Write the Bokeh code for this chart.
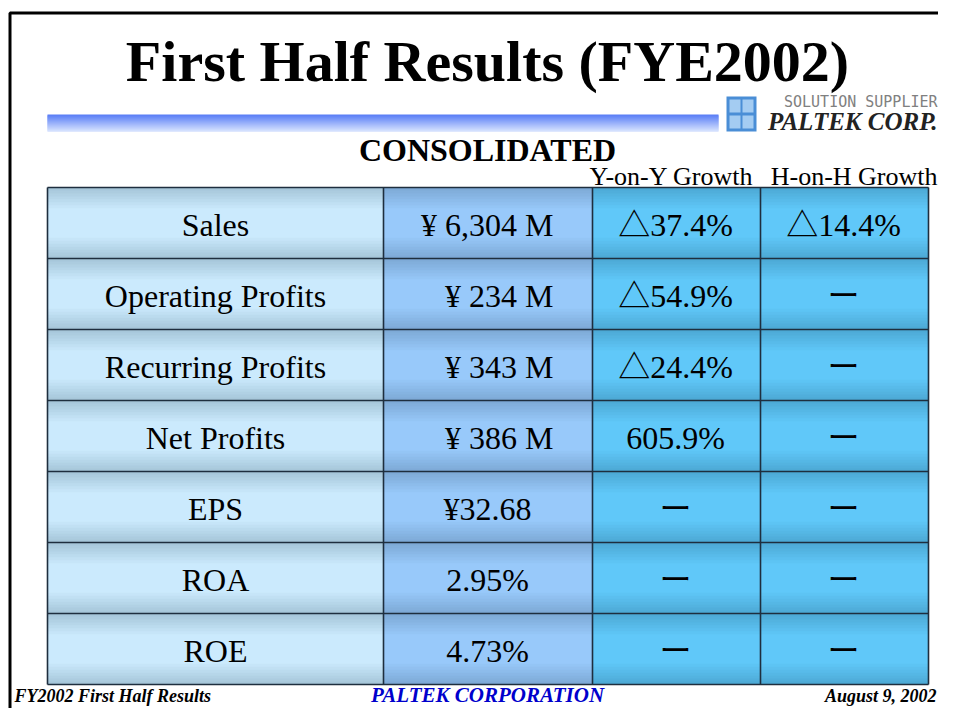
from bokeh.plotting import figure
from bokeh.models import Range1d
from bokeh.core.properties import value
from bokeh.embed import file_html
from bokeh.resources import INLINE

# ---- data ----
title = "First Half Results (FYE2002)"
subtitle = "CONSOLIDATED"
col_headers = ["Y-on-Y Growth", "H-on-H Growth"]
labels = ["Sales", "Operating Profits", "Recurring Profits", "Net Profits", "EPS", "ROA", "ROE"]
amounts = ["¥ 6,304 M", "¥ 234 M", "¥ 343 M", "¥ 386 M", "¥32.68", "2.95%", "4.73%"]
yoy = ["△37.4%", "△54.9%", "△24.4%", "605.9%", "ー", "ー", "ー"]
hoh = ["△14.4%", "ー", "ー", "ー", "ー", "ー", "ー"]
footer_left = "FY2002 First Half Results"
footer_mid = "PALTEK CORPORATION"
footer_right = "August 9, 2002"

SERIF = value("Liberation Serif")
SERIF_CJK = value("Liberation Serif, Noto Sans CJK JP")

W, H = 938, 708
col_x = [47, 383, 592, 760, 928]
row_top = 187
row_h = 71
n = len(labels)

p = figure(width=W, height=H, x_range=Range1d(0, W), y_range=Range1d(H, 0),
           output_backend="svg", toolbar_location=None, min_border=0)
p.axis.visible = False
p.grid.visible = False
p.outline_line_color = None
p.background_fill_color = "white"
p.border_fill_color = "white"


def hexmix(a, b, t):
    a = [int(a[i:i + 2], 16) for i in (1, 3, 5)]
    b = [int(b[i:i + 2], 16) for i in (1, 3, 5)]
    return "#" + "".join("%02x" % round(a[k] + (b[k] - a[k]) * t) for k in range(3))


def txt(x, y, t, size, align="center", style="normal", color="black", font=SERIF):
    p.text(x=x, y=y, text=t, text_font=font, text_font_style=style, text_font_size=size,
           text_baseline="middle", text_align=align, text_color=color)


# slide frame
p.line([9.5, 9.5, 960], [740, 12.5, 12.5], line_color="black", line_width=3)

# title bar gradient
nb = 17
bt, bb = 114, 131
L, R, B, T, C = [], [], [], [], []
for i in range(nb):
    L.append(47); R.append(718)
    T.append(bt + (bb - bt) * i / nb); B.append(min(bb, bt + (bb - bt) * (i + 1) / nb + 1))
    C.append(hexmix("#5a7ef6", "#d6e2fe", i / (nb - 1)))
p.quad(left=L, right=R, top=T, bottom=B, fill_color=C, line_color=None)

# logo
p.quad(left=[726], right=[756], top=[96], bottom=[131], fill_color="#4a8ed6", line_color=None)
p.quad(left=[729, 742], right=[740, 753], top=[99, 99], bottom=[112, 112], fill_color="#a4ccf2", line_color=None)
p.quad(left=[729, 742], right=[740, 753], top=[115, 115], bottom=[128, 128], fill_color="#a4ccf2", line_color=None)
txt([937], [101], ["SOLUTION SUPPLIER"], "15px", align="right", color="#808080", font=value("DejaVu Sans Mono"))
txt([937], [121], ["PALTEK CORP."], "25px", align="right", style="bold italic", color="#222222")

# title texts
txt([487], [61], [title], "58px", style="bold")
txt([487], [149], [subtitle], "32px", style="bold")
txt([671], [176], [col_headers[0]], "26px")
txt([937], [176], [col_headers[1]], "26px", align="right")

# table cells with vertical gradient
col_colors = [("#a4c4d8", "#cbeafd"), ("#7ca8d4", "#98c9fa"), ("#4ca8d4", "#60c8f9"), ("#4ca8d4", "#60c8f9")]
L, R, B, T, C = [], [], [], [], []
nb = 24
for r in range(n):
    y0 = row_top + r * row_h
    for c in range(4):
        edge, mid = col_colors[c]
        for i in range(nb):
            t = (i + 0.5) / nb
            w = 1 - abs(t - 0.5) * 2
            w = min(1.0, w * 1.6)
            L.append(col_x[c]); R.append(col_x[c + 1])
            T.append(y0 + row_h * i / nb)
            B.append(min(y0 + row_h, y0 + row_h * (i + 1) / nb + 1.5))
            C.append(hexmix(edge, mid, w))
p.quad(left=L, right=R, top=T, bottom=B, fill_color=C, line_color=None)

# grid lines
y_lines = [row_top + r * row_h for r in range(n + 1)]
p.multi_line(xs=[[col_x[0], col_x[-1]] for _ in y_lines], ys=[[y, y] for y in y_lines],
             line_color="#1e2e3e", line_width=1.6)
p.multi_line(xs=[[x, x] for x in col_x], ys=[[y_lines[0], y_lines[-1]] for _ in col_x],
             line_color="#1e2e3e", line_width=1.6)

# cell texts
cy = [row_top + row_h * (r + 0.5) + 1.5 for r in range(n)]
txt([(col_x[0] + col_x[1]) / 2] * n, cy, labels, "32px")
idx_r = [i for i, a in enumerate(amounts) if a.endswith("M")]
idx_c = [i for i, a in enumerate(amounts) if not a.endswith("M")]
txt([553] * len(idx_r), [cy[i] for i in idx_r], [amounts[i] for i in idx_r], "32px", align="right")
txt([487] * len(idx_c), [cy[i] for i in idx_c], [amounts[i] for i in idx_c], "32px")
txt([675] * n, cy, yoy, "32px", font=SERIF_CJK)
txt([843] * n, cy, hoh, "32px", font=SERIF_CJK)

# footer
txt([14], [695], [footer_left], "18px", align="left", style="bold italic")
txt([487], [694], [footer_mid], "21px", style="bold italic", color="#0000cc")
txt([936], [695], [footer_right], "18px", align="right", style="bold italic")

open("out.html", "w").write(file_html(p, INLINE))
